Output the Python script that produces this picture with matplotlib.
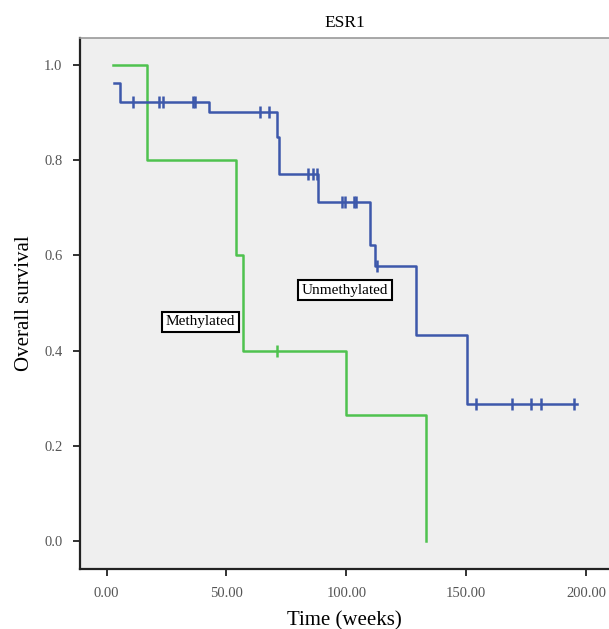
import numpy as np
import matplotlib.pyplot as plt

# Kaplan-Meier steps (time in weeks, survival)
meth_times = [2.8, 17.0, 54.0, 57.0, 99.8, 133.1]
meth_surv = [1.0, 0.8, 0.6, 0.4, 0.265, 0.0]
meth_censor = [70.9]

unmeth_times = [3.0, 5.8, 42.8, 70.9, 72.0, 88.0, 109.8, 111.9, 128.9, 150.2, 196.0]
unmeth_surv = [0.962, 0.923, 0.900, 0.848, 0.770, 0.711, 0.622, 0.578, 0.433, 0.288, 0.288]
unmeth_censor = [11.0, 21.8, 23.6, 36.1, 36.8, 64.0, 67.8, 84.1, 86.2, 87.6,
                 98.0, 99.4, 103.2, 104.0, 112.6, 154.1, 169.0, 177.0, 181.1, 194.9]

x_ticks = [0, 50, 100, 150, 200]
y_ticks = [0.0, 0.2, 0.4, 0.6, 0.8, 1.0]

BLUE = '#3d58ab'
GREEN = '#4fc24f'

plt.rcParams['font.family'] = ['Liberation Serif', 'DejaVu Serif']


def surv_at(times, surv, t):
    i = np.searchsorted(times, t, side='right') - 1
    return np.asarray(surv)[i]


fig = plt.figure(figsize=(6.09, 6.29), dpi=100)
ax = fig.add_axes([0.132, 0.096, 0.868, 0.844])
ax.set_facecolor('#efefef')

ax.step(meth_times, meth_surv, where='post', color=GREEN, lw=1.8)
ax.step(unmeth_times, unmeth_surv, where='post', color=BLUE, lw=1.8)

ax.plot(meth_censor, surv_at(meth_times, meth_surv, meth_censor), '|',
        color=GREEN, ms=8, mew=1.8)
ax.plot(unmeth_censor, surv_at(unmeth_times, unmeth_surv, unmeth_censor), '|',
        color=BLUE, ms=8, mew=1.8)

box = dict(boxstyle='square,pad=0.25', fc='white', ec='black', lw=1.5)
ax.text(39.0, 0.46, 'Methylated', fontsize=11, ha='center', va='center', bbox=box)
ax.text(99.5, 0.527, 'Unmethylated', fontsize=11, ha='center', va='center', bbox=box)

ax.set_xlim(-10.9, 209.5)
ax.set_ylim(-0.058, 1.057)
ax.set_xticks(x_ticks)
ax.set_xticklabels(['%.2f' % v for v in x_ticks])
ax.set_yticks(y_ticks)
ax.set_yticklabels(['%.1f' % v for v in y_ticks])
ax.tick_params(direction='out', length=5, width=1.3, colors='#222222',
               labelsize=10.5, labelcolor='#555555', pad=8)

for side in ['left', 'bottom']:
    ax.spines[side].set_linewidth(1.6)
    ax.spines[side].set_color('#222222')
ax.spines['top'].set_color('#999999')
ax.spines['top'].set_linewidth(1.2)
ax.spines['right'].set_visible(False)

ax.set_title('ESR1', fontsize=12.5, pad=8)
ax.set_xlabel('Time (weeks)', fontsize=15, labelpad=8)
ax.set_ylabel('Overall survival', fontsize=15, labelpad=7)

fig.savefig('out.png', dpi=100)
